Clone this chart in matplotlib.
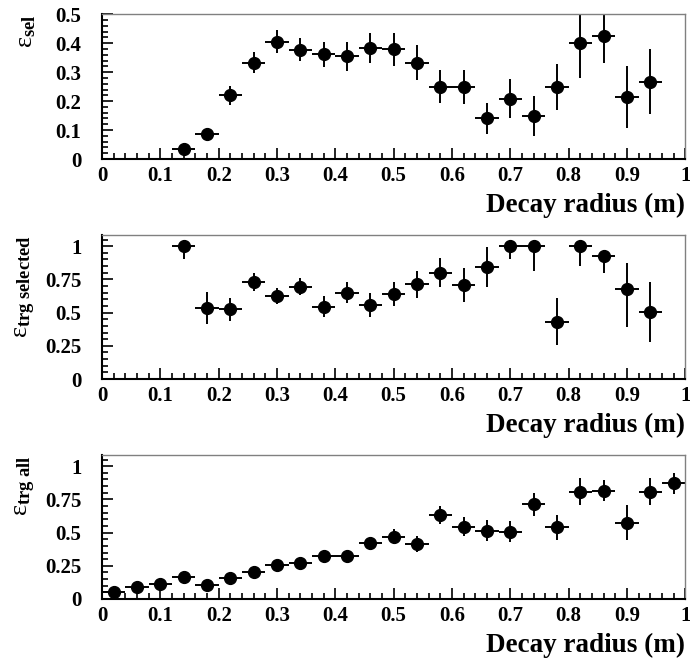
import numpy as np
import matplotlib
matplotlib.use("Agg")
import matplotlib.pyplot as plt
from matplotlib.ticker import MultipleLocator, FuncFormatter

plt.rcParams['font.family'] = ['Liberation Serif', 'DejaVu Serif']
plt.rcParams['font.weight'] = 'bold'
plt.rcParams['mathtext.fontset'] = 'custom'
plt.rcParams['mathtext.rm'] = 'Liberation Serif:bold'
plt.rcParams['mathtext.it'] = 'Liberation Serif:style=normal:weight=normal'
plt.rcParams['mathtext.bf'] = 'Liberation Serif:bold'

# bin centres (bin width 0.04 m)
r_sel = [0.14, 0.18, 0.22, 0.26, 0.30, 0.34, 0.38, 0.42, 0.46, 0.50, 0.54,
         0.58, 0.62, 0.66, 0.70, 0.74, 0.78, 0.82, 0.86, 0.90, 0.94]
eff_sel = [0.033, 0.085, 0.22, 0.333, 0.405, 0.378, 0.362, 0.355, 0.384, 0.379,
           0.333, 0.249, 0.249, 0.140, 0.209, 0.149, 0.249, 0.401, 0.424, 0.215, 0.267]
err_sel = [0.008, 0.012, 0.032, 0.037, 0.039, 0.041, 0.043, 0.05, 0.053, 0.057,
           0.061, 0.057, 0.06, 0.053, 0.066, 0.069, 0.08, 0.12, 0.094, 0.108, 0.112]

r_trg = r_sel
eff_trg = [1.0, 0.533, 0.525, 0.733, 0.625, 0.695, 0.545, 0.65, 0.557, 0.64, 0.713,
           0.80, 0.708, 0.845, 1.0, 1.0, 0.4325, 1.0, 0.925, 0.675, 0.5075]
err_trg_lo = [0.10, 0.12, 0.088, 0.068, 0.063, 0.066, 0.079, 0.078, 0.088, 0.092, 0.10,
              0.11, 0.125, 0.15, 0.10, 0.19, 0.18, 0.15, 0.13, 0.285, 0.23]
err_trg_hi = [0.0, 0.12, 0.088, 0.068, 0.063, 0.066, 0.079, 0.078, 0.088, 0.092, 0.10,
              0.11, 0.125, 0.15, 0.0, 0.0, 0.18, 0.0, 0.05, 0.20, 0.225]

r_all = [0.02, 0.06, 0.10, 0.14, 0.18, 0.22, 0.26, 0.30, 0.34, 0.38, 0.42, 0.46,
         0.50, 0.54, 0.58, 0.62, 0.66, 0.70, 0.74, 0.78, 0.82, 0.86, 0.90, 0.94, 0.98]
eff_all = [0.0525, 0.09, 0.115, 0.1625, 0.1025, 0.1575, 0.20, 0.255, 0.27, 0.3275,
           0.325, 0.42, 0.47, 0.415, 0.6325, 0.545, 0.515, 0.5075, 0.7125, 0.54,
           0.8075, 0.815, 0.575, 0.8075, 0.87]
err_all = [0.008, 0.01, 0.012, 0.015, 0.015, 0.018, 0.02, 0.022, 0.025, 0.03,
           0.035, 0.047, 0.058, 0.06, 0.065, 0.069, 0.079, 0.08, 0.087, 0.096,
           0.10, 0.08, 0.13, 0.10, 0.08]

bin_half = 0.02

fig = plt.figure(figsize=(6.9, 6.64), dpi=100)
boxes = [[0.148, 0.7605, 0.845, 0.218],
         [0.148, 0.4292, 0.845, 0.217],
         [0.148, 0.0979, 0.845, 0.217]]
labels = [r'$\mathit{\varepsilon}_{\mathrm{sel}}$',
          r'$\mathit{\varepsilon}_{\mathrm{trg\ selected}}$',
          r'$\mathit{\varepsilon}_{\mathrm{trg\ all}}$']
panels = [(r_sel, eff_sel, [err_sel, err_sel], 0.5, 0.1, 0.02),
          (r_trg, eff_trg, [err_trg_lo, err_trg_hi], 1.085, 0.25, 0.05),
          (r_all, eff_all, [err_all, err_all], 1.085, 0.25, 0.05)]

fmt = FuncFormatter(lambda v, p: '%g' % round(v, 3))

for box, lab, (x, y, yerr, ytop, ymaj, ymin) in zip(boxes, labels, panels):
    ax = fig.add_axes(box)
    ax.errorbar(x, y, xerr=bin_half, yerr=yerr, fmt='o', color='black',
                markersize=8.5, elinewidth=1.4, capsize=0)
    ax.set_xlim(0, 1)
    ax.set_ylim(0, ytop)
    ax.xaxis.set_major_locator(MultipleLocator(0.1))
    ax.xaxis.set_minor_locator(MultipleLocator(0.02))
    ax.yaxis.set_major_locator(MultipleLocator(ymaj))
    ax.yaxis.set_minor_locator(MultipleLocator(ymin))
    ax.xaxis.set_major_formatter(fmt)
    ax.yaxis.set_major_formatter(fmt)
    ax.tick_params(which='both', direction='in', top=False, right=False,
                   labelsize=15, width=1.2)
    ax.tick_params(axis='x', which='major', length=8, pad=5)
    ax.tick_params(axis='x', which='minor', length=4)
    ax.tick_params(axis='y', which='major', length=8, pad=15)
    ax.tick_params(axis='y', which='minor', length=4)
    for s in ['top', 'right']:
        ax.spines[s].set_color('#808080')
        ax.spines[s].set_linewidth(1.0)
    for s in ['left', 'bottom']:
        ax.spines[s].set_linewidth(1.5)
    ax.set_xlabel('Decay radius (m)', fontsize=19.5, fontweight='bold', loc='right')
    ax.xaxis.set_label_coords(1.0, -0.235)
    ax.set_ylabel(lab, fontsize=19, loc='top')
    ax.yaxis.set_label_coords(-0.11, 1.0)

fig.savefig('out.png', dpi=100)
